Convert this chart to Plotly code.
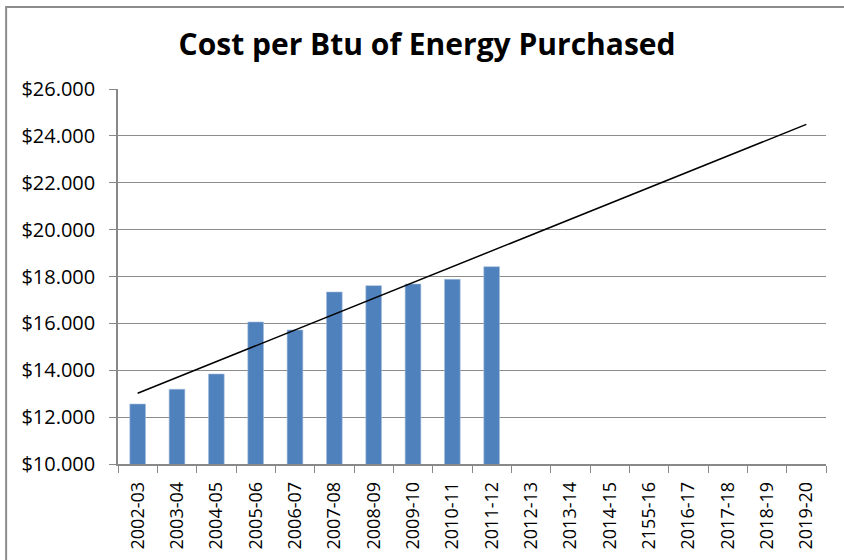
import plotly.graph_objects as go

categories = ["2002-03", "2003-04", "2004-05", "2005-06", "2006-07", "2007-08",
              "2008-09", "2009-10", "2010-11", "2011-12", "2012-13", "2013-14",
              "2014-15", "2155-16", "2016-17", "2017-18", "2018-19", "2019-20"]
cost_values = [12.56, 13.19, 13.84, 16.06, 15.72, 17.34, 17.61, 17.68, 17.88, 18.42,
               None, None, None, None, None, None, None, None]
trend_categories = ["2002-03", "2019-20"]
trend_values = [13.02, 24.49]
y_ticks = [10, 12, 14, 16, 18, 20, 22, 24, 26]
y_tick_labels = ["$10.000", "$12.000", "$14.000", "$16.000", "$18.000",
                 "$20.000", "$22.000", "$24.000", "$26.000"]

font_family = "'Open Sans', Lato, sans-serif"

fig = go.Figure()
fig.add_trace(go.Bar(
    x=categories, y=cost_values,
    marker=dict(color="#4F81BD", line=dict(color="#A7C0DE", width=0.6)),
    showlegend=False, hoverinfo="x+y",
))
fig.add_trace(go.Scatter(
    x=trend_categories, y=trend_values, mode="lines",
    line=dict(color="black", width=1.5), showlegend=False,
))

fig.update_layout(
    width=844, height=560,
    margin=dict(l=118, r=18, t=89, b=96),
    paper_bgcolor="white", plot_bgcolor="white",
    bargap=0.6,
    title=dict(text="<b>Cost per Btu of Energy Purchased</b>",
               x=0.506, xanchor="center", y=0.92, yanchor="middle",
               font=dict(family=font_family, size=30, color="black")),
    font=dict(family=font_family, size=18, color="black"),
    xaxis=dict(
        type="category", categoryorder="array", categoryarray=categories,
        range=[-0.5, 17.5],
        tickangle=-90, tickson="boundaries", ticks="outside", ticklen=7,
        tickcolor="#888888", showline=True, linecolor="#888888", linewidth=1.5,
        showgrid=False, tickfont=dict(size=18, color="black"),
        ticklabelstandoff=9,
    ),
    yaxis=dict(
        range=[10, 26], tickvals=y_ticks, ticktext=y_tick_labels,
        ticks="outside", ticklen=7, tickcolor="#888888",
        showline=True, linecolor="#888888", linewidth=1.5,
        showgrid=True, gridcolor="#8C8C8C", gridwidth=1.2,
        zeroline=False, tickfont=dict(size=20, color="black"),
        ticklabelstandoff=10,
    ),
    shapes=[dict(type="path", xref="paper", yref="paper",
                 path="M -0.158,-0.3 L -0.158,1.219 L 1.05,1.219",
                 line=dict(color="#8C8C8C", width=2),
                 layer="below")],
)

fig.write_html("out.html", config={"displayModeBar": False},
               post_script="document.body.style.margin='0';")
